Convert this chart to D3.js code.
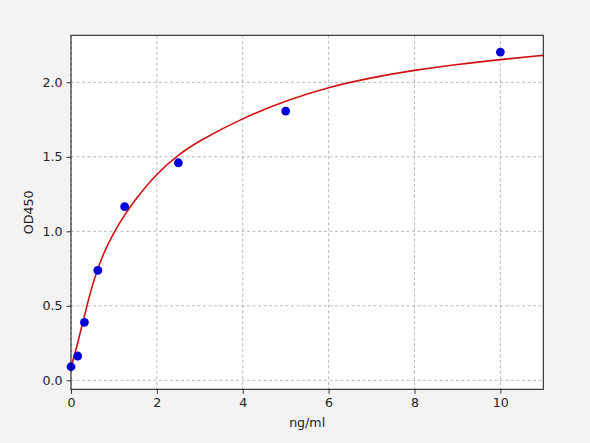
<!DOCTYPE html>
<html><head><meta charset="utf-8">
<script src="https://cdn.jsdelivr.net/npm/d3@7"></script>
<style>
html,body{margin:0;padding:0;background:#f3f3f3;}
svg{display:block;}
text{font-family:"DejaVu Sans",sans-serif;fill:#222;}
</style></head>
<body>
<svg id="chart" width="590" height="443"></svg>
<script>
// Measured standards (concentration ng/ml, OD450)
const concentrations = [0, 0.156, 0.3125, 0.625, 1.25, 2.5, 5, 10];
const odValues = [0.091, 0.163, 0.389, 0.738, 1.165, 1.460, 1.807, 2.203];
// Fitted curve
const curveX = [0, 0.1, 0.25, 0.4, 0.55, 0.75, 1.0, 1.25, 1.5, 2.0, 2.5, 3.0, 4.0, 5.0, 6.0, 7.0, 8.0, 9.0, 10.0, 11.0];
const curveY = [0.09, 0.185, 0.36, 0.535, 0.69, 0.85, 0.995, 1.11, 1.215, 1.39, 1.515, 1.61, 1.76, 1.877, 1.968, 2.032, 2.082, 2.121, 2.153, 2.181];
const xTicks = [0, 2, 4, 6, 8, 10];
const yTicks = [0.0, 0.5, 1.0, 1.5, 2.0];

const svg = d3.select("#chart");
const L = 71, R = 543.3, T = 35.3, B = 389.3;
const x = d3.scaleLinear().domain([0, 11]).range([L, R]);
const y = d3.scaleLinear().domain([-0.0604, 2.3155]).range([B, T]);

svg.append("rect").attr("x", L).attr("y", T).attr("width", R - L).attr("height", B - T).attr("fill", "#fff");

// grid
const grid = svg.append("g").attr("stroke", "#b0b0b0").attr("stroke-width", 0.9).attr("stroke-dasharray", "3,2.5");
grid.selectAll(".gx").data(xTicks).join("line")
  .attr("x1", d => x(d)).attr("x2", d => x(d)).attr("y1", T).attr("y2", B);
grid.selectAll(".gy").data(yTicks).join("line")
  .attr("y1", d => y(d)).attr("y2", d => y(d)).attr("x1", L).attr("x2", R);

// axes
const xAxis = d3.axisBottom(x).tickValues(xTicks).tickFormat(d3.format("d")).tickSize(4.5).tickPadding(4);
const yAxis = d3.axisLeft(y).tickValues(yTicks).tickFormat(d3.format(".1f")).tickSize(4.5).tickPadding(4);
const gx = svg.append("g").attr("transform", `translate(0,${B})`).call(xAxis);
const gy = svg.append("g").attr("transform", `translate(${L},0)`).call(yAxis);
[gx, gy].forEach(g => {
  g.select(".domain").remove();
  g.selectAll(".tick line").attr("stroke", "#222").attr("stroke-width", 0.9);
  g.selectAll(".tick text").attr("font-size", "12.6px").attr("fill", "#222").style("font-family", "DejaVu Sans");
});

// curve
const pts = curveX.map((v, i) => [v, curveY[i]]);
svg.append("path").datum(pts)
  .attr("fill", "none").attr("stroke", "#d01010").attr("stroke-width", 1.6)
  .attr("d", d3.line().x(d => x(d[0])).y(d => y(d[1])).curve(d3.curveBasis));

// points
svg.append("g").selectAll("circle").data(concentrations).join("circle")
  .attr("cx", d => x(d)).attr("cy", (d, i) => y(odValues[i])).attr("r", 4.4)
  .attr("fill", "#0000dd");

// frame
svg.append("rect").attr("x", L).attr("y", T).attr("width", R - L).attr("height", B - T)
  .attr("fill", "none").attr("stroke", "#111").attr("stroke-width", 1);

// labels
svg.append("text").attr("x", (L + R) / 2).attr("y", 427).attr("text-anchor", "middle")
  .attr("font-size", "12.6px").text("ng/ml");
svg.append("text").attr("transform", `translate(33,${(T + B) / 2}) rotate(-90)`).attr("text-anchor", "middle")
  .attr("font-size", "12.6px").text("OD450");
</script>
</body></html>
